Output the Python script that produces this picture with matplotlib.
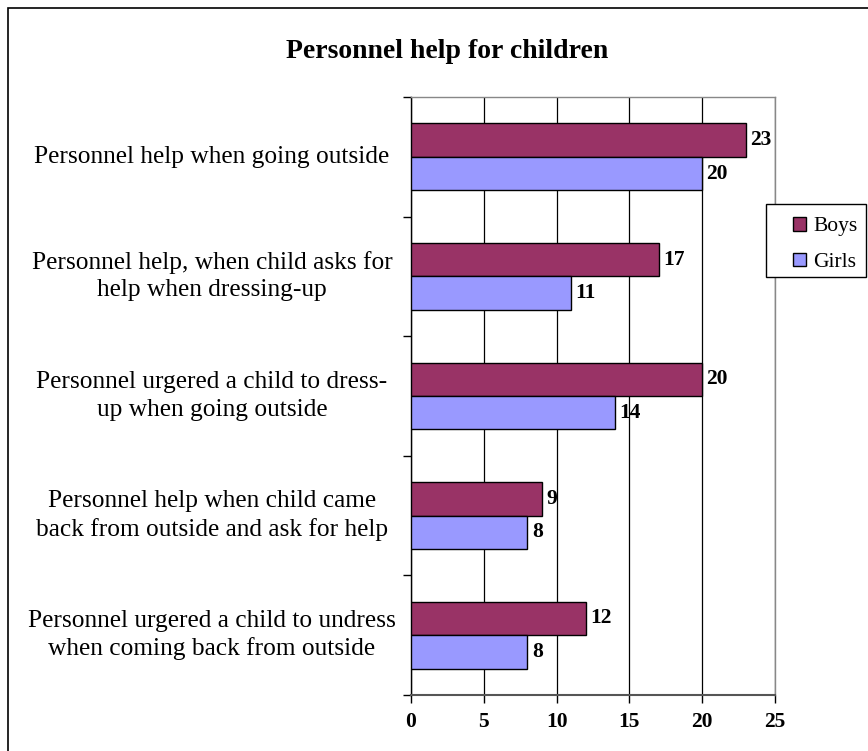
import numpy as np
import matplotlib.pyplot as plt
from matplotlib.patches import Rectangle

plt.rcParams['font.family'] = ['Liberation Serif', 'DejaVu Serif']

categories = ["Personnel help when going outside",
              "Personnel help, when child asks for\nhelp when dressing-up",
              "Personnel urgered a child to dress-\nup when going outside",
              "Personnel help when child came\nback from outside and ask for help",
              "Personnel urgered a child to undress\nwhen coming back from outside"]
boys = [23, 17, 20, 9, 12]
girls = [20, 11, 14, 8, 8]
series_names = ["Boys", "Girls"]
x_ticks = [0, 5, 10, 15, 20, 25]

boys_color = '#993366'
girls_color = '#9999FF'

fig = plt.figure(figsize=(8.68, 7.51), dpi=100)
ax = fig.add_axes([411 / 868, 1 - 695 / 751, 364 / 868, 598 / 751])

# outer chart border (left/top visible, rest runs off the image)
fig.patches.append(Rectangle((8 / 868, -0.1), 1.2, 1.1 - 7.5 / 751,
                             transform=fig.transFigure, fill=False,
                             edgecolor='black', linewidth=1.2))

pos = np.arange(len(categories))
h = 0.28
ax.barh(pos - h / 2, boys, height=h, color=boys_color, edgecolor='black',
        linewidth=1, label=series_names[0], zorder=3)
ax.barh(pos + h / 2, girls, height=h, color=girls_color, edgecolor='black',
        linewidth=1, label=series_names[1], zorder=3)

for i in range(len(categories)):
    ax.text(boys[i] + 0.3, pos[i] - h / 2, str(boys[i]), va='center',
            ha='left', fontsize=15.5, fontweight='bold')
    ax.text(girls[i] + 0.3, pos[i] + h / 2, str(girls[i]), va='center',
            ha='left', fontsize=15.5, fontweight='bold')

ax.set_xlim(0, 25)
ax.set_ylim(len(categories) - 0.5, -0.5)
ax.set_xticks(x_ticks)
ax.set_xticklabels([str(t) for t in x_ticks], fontsize=15.5, fontweight='bold')
ax.tick_params(axis='x', direction='out', length=6, width=1, pad=6)
ax.set_yticks(np.arange(-0.5, len(categories), 1.0))
ax.set_yticklabels([])
ax.tick_params(axis='y', direction='out', length=6, width=1)

for i, c in enumerate(categories):
    ax.text(-0.547, pos[i], c, transform=ax.get_yaxis_transform(),
            ha='center', va='center', multialignment='center', fontsize=18.3,
            linespacing=1.3)

ax.xaxis.grid(True, color='black', linewidth=0.9, zorder=0)
ax.set_axisbelow(True)
for s in ['top', 'right']:
    ax.spines[s].set_color('#888888')
    ax.spines[s].set_linewidth(1)
ax.spines['bottom'].set_color('#555555')
ax.spines['bottom'].set_linewidth(1.5)
ax.spines['left'].set_color('black')
ax.spines['left'].set_linewidth(1)

fig.text(447 / 868, 1 - 52 / 751, "Personnel help for children", ha='center',
         va='center', fontsize=20, fontweight='bold')

# legend box drawn separately so it matches the original frame
fig.patches.append(Rectangle((766 / 868, 1 - 277 / 751), 100 / 868, 73 / 751,
                             transform=fig.transFigure, fill=True,
                             facecolor='white', edgecolor='black',
                             linewidth=1, zorder=5))
leg = fig.legend(loc='upper left', bbox_to_anchor=(793 / 868, 1 - 217 / 751),
                 fontsize=15.5, frameon=False, borderpad=0, borderaxespad=0,
                 handlelength=0.6, handleheight=0.6, handletextpad=0.35,
                 labelspacing=0.75)
leg.set_zorder(6)

fig.savefig('out.png', dpi=100)
